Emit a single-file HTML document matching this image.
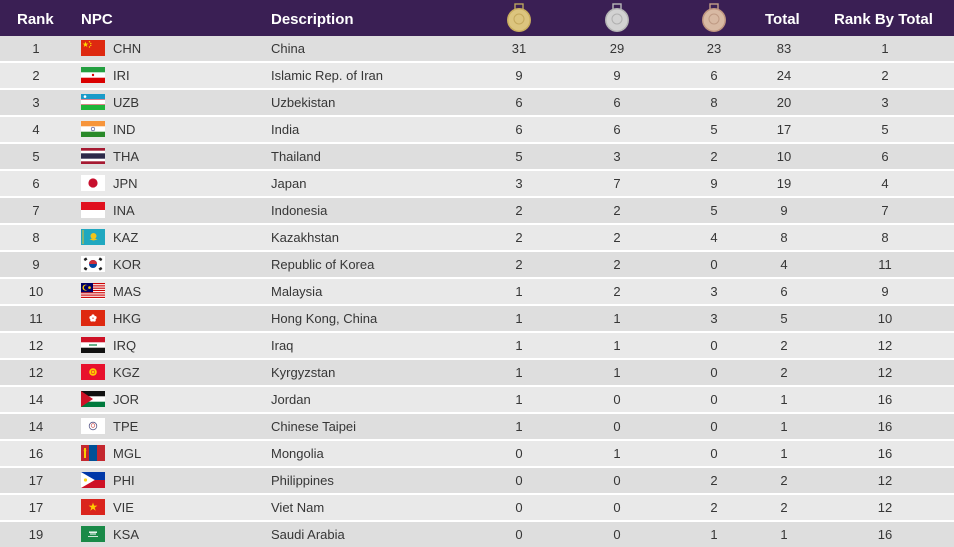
<!DOCTYPE html>
<html><head><meta charset="utf-8">
<style>
html,body{margin:0;padding:0;}
body{width:954px;height:544px;overflow:hidden;background:#fff;font-family:"Liberation Sans",Arial,sans-serif;color:#363636;position:relative;}
.hd{position:absolute;left:0;top:0;width:954px;height:36px;background:#3a1f54;}
.hd span{position:absolute;top:0;line-height:40px;font-size:15px;font-weight:bold;color:#fff;}
.hd svg{position:absolute;top:3px;}
.r{position:absolute;left:0;width:954px;height:25px;font-size:13px;}
.a{background:#dedede;}
.b{background:#e9e9e9;}
.r span{position:absolute;top:0;line-height:25px;white-space:nowrap;}
.c{width:60px;text-align:center;}
.rk{left:6px;}
.g{left:489px;}
.s{left:587px;}
.bz{left:684px;}
.t{left:754px;}
.rt{left:855px;}
.n{left:113px;}
.d{left:271px;}
.r svg{position:absolute;left:81px;top:4px;width:24px;height:16px;}
</style></head><body>
<div class="hd">
<span style="left:17px">Rank</span>
<span style="left:81px">NPC</span>
<span style="left:271px">Description</span>
<svg style="left:506px" width="26" height="30" viewBox="0 0 26 30"><rect x="9" y="1" width="8" height="6" fill="none" stroke="#b9a35e" stroke-width="1.4"/><circle cx="13" cy="17" r="12" fill="#c9ae5f"/><circle cx="13" cy="17" r="10.5" fill="#dcc57e"/><circle cx="13" cy="16" r="5" fill="none" stroke="#c4a95d" stroke-width="1"/></svg>
<svg style="left:604px" width="26" height="30" viewBox="0 0 26 30"><rect x="9" y="1" width="8" height="6" fill="none" stroke="#b8b8b8" stroke-width="1.4"/><circle cx="13" cy="17" r="12" fill="#b5b5b5"/><circle cx="13" cy="17" r="10.5" fill="#d2d2d2"/><circle cx="13" cy="16" r="5" fill="none" stroke="#b0b0b0" stroke-width="1"/></svg>
<svg style="left:701px" width="26" height="30" viewBox="0 0 26 30"><rect x="9" y="1" width="8" height="6" fill="none" stroke="#c49f87" stroke-width="1.4"/><circle cx="13" cy="17" r="12" fill="#c09680"/><circle cx="13" cy="17" r="10.5" fill="#d8b9a3"/><circle cx="13" cy="16" r="5" fill="none" stroke="#bf9a84" stroke-width="1"/></svg>
<span style="left:765px">Total</span>
<span style="left:834px">Rank By Total</span>
</div>

<div class="r a" style="top:36px"><span class="c rk">1</span>
<svg viewBox="0 0 24 16"><rect width="24" height="16" fill="#de2910"/><polygon points="4.5,1.5 5.2,3.6 7.4,3.6 5.6,4.9 6.3,7 4.5,5.7 2.7,7 3.4,4.9 1.6,3.6 3.8,3.6" fill="#ffde00"/><circle cx="8.5" cy="1.8" r=".7" fill="#ffde00"/><circle cx="9.8" cy="3.4" r=".7" fill="#ffde00"/><circle cx="9.8" cy="5.4" r=".7" fill="#ffde00"/><circle cx="8.5" cy="7" r=".7" fill="#ffde00"/></svg>
<span class="n">CHN</span><span class="d">China</span><span class="c g">31</span><span class="c s">29</span><span class="c bz">23</span><span class="c t">83</span><span class="c rt">1</span></div>

<div class="r b" style="top:63px"><span class="c rk">2</span>
<svg viewBox="0 0 24 16"><rect width="24" height="16" fill="#fff"/><rect width="24" height="5.3" fill="#239f40"/><rect y="10.7" width="24" height="5.3" fill="#da0000"/><circle cx="12" cy="8" r="1.2" fill="#da0000"/></svg>
<span class="n">IRI</span><span class="d">Islamic Rep. of Iran</span><span class="c g">9</span><span class="c s">9</span><span class="c bz">6</span><span class="c t">24</span><span class="c rt">2</span></div>

<div class="r a" style="top:90px"><span class="c rk">3</span>
<svg viewBox="0 0 24 16"><rect width="24" height="16" fill="#fff"/><rect width="24" height="5.3" fill="#1a9bc9"/><rect y="10.7" width="24" height="5.3" fill="#1eb53a"/><rect y="5.1" width="24" height=".5" fill="#ce1126"/><rect y="10.4" width="24" height=".5" fill="#ce1126"/><circle cx="4" cy="2.6" r="1.3" fill="#fff"/></svg>
<span class="n">UZB</span><span class="d">Uzbekistan</span><span class="c g">6</span><span class="c s">6</span><span class="c bz">8</span><span class="c t">20</span><span class="c rt">3</span></div>

<div class="r b" style="top:117px"><span class="c rk">4</span>
<svg viewBox="0 0 24 16"><rect width="24" height="16" fill="#fff"/><rect width="24" height="5.3" fill="#f7953b"/><rect y="10.7" width="24" height="5.3" fill="#2a8a2a"/><circle cx="12" cy="8" r="1.8" fill="none" stroke="#3a3a8a" stroke-width=".6"/></svg>
<span class="n">IND</span><span class="d">India</span><span class="c g">6</span><span class="c s">6</span><span class="c bz">5</span><span class="c t">17</span><span class="c rt">5</span></div>

<div class="r a" style="top:144px"><span class="c rk">5</span>
<svg viewBox="0 0 24 16"><rect width="24" height="16" fill="#fff"/><rect width="24" height="2.7" fill="#a51931"/><rect y="5.3" width="24" height="5.4" fill="#2d2a4a"/><rect y="13.3" width="24" height="2.7" fill="#a51931"/></svg>
<span class="n">THA</span><span class="d">Thailand</span><span class="c g">5</span><span class="c s">3</span><span class="c bz">2</span><span class="c t">10</span><span class="c rt">6</span></div>

<div class="r b" style="top:171px"><span class="c rk">6</span>
<svg viewBox="0 0 24 16"><rect width="24" height="16" fill="#fff"/><circle cx="12" cy="8" r="4.6" fill="#c8102e"/></svg>
<span class="n">JPN</span><span class="d">Japan</span><span class="c g">3</span><span class="c s">7</span><span class="c bz">9</span><span class="c t">19</span><span class="c rt">4</span></div>

<div class="r a" style="top:198px"><span class="c rk">7</span>
<svg viewBox="0 0 24 16"><rect width="24" height="16" fill="#fff"/><rect width="24" height="8" fill="#e0101e"/></svg>
<span class="n">INA</span><span class="d">Indonesia</span><span class="c g">2</span><span class="c s">2</span><span class="c bz">5</span><span class="c t">9</span><span class="c rt">7</span></div>

<div class="r b" style="top:225px"><span class="c rk">8</span>
<svg viewBox="0 0 24 16"><rect width="24" height="16" fill="#20a8c0"/><circle cx="12.5" cy="7" r="3" fill="#f0c419"/><path d="M8.5 10.5 Q12.5 8.5 16.5 10.5 L12.5 11.5Z" fill="#f0c419"/><rect x="1.5" y="1" width="1" height="14" fill="#e0bf30"/></svg>
<span class="n">KAZ</span><span class="d">Kazakhstan</span><span class="c g">2</span><span class="c s">2</span><span class="c bz">4</span><span class="c t">8</span><span class="c rt">8</span></div>

<div class="r a" style="top:252px"><span class="c rk">9</span>
<svg viewBox="0 0 24 16"><rect width="24" height="16" fill="#fff"/><circle cx="12" cy="8" r="4" fill="#0047a0"/><path d="M8 8 A4 4 0 0 1 16 8Z" fill="#cd2e3a"/><g fill="#222"><rect x="3" y="2" width="3" height="2.5" transform="rotate(-33 4.5 3.2)"/><rect x="18" y="2" width="3" height="2.5" transform="rotate(33 19.5 3.2)"/><rect x="3" y="11.5" width="3" height="2.5" transform="rotate(33 4.5 12.8)"/><rect x="18" y="11.5" width="3" height="2.5" transform="rotate(-33 19.5 12.8)"/></g></svg>
<span class="n">KOR</span><span class="d">Republic of Korea</span><span class="c g">2</span><span class="c s">2</span><span class="c bz">0</span><span class="c t">4</span><span class="c rt">11</span></div>

<div class="r b" style="top:279px"><span class="c rk">10</span>
<svg viewBox="0 0 24 16"><rect width="24" height="16" fill="#fff"/><g fill="#cc0001"><rect y="0" width="24" height="1.15"/><rect y="2.3" width="24" height="1.15"/><rect y="4.6" width="24" height="1.15"/><rect y="6.9" width="24" height="1.15"/><rect y="9.2" width="24" height="1.15"/><rect y="11.5" width="24" height="1.15"/><rect y="13.8" width="24" height="1.15"/></g><rect width="12" height="9.2" fill="#010066"/><circle cx="4.5" cy="4.6" r="3" fill="#fc0"/><circle cx="5.4" cy="4.6" r="2.5" fill="#010066"/><circle cx="8.5" cy="4.6" r="1.3" fill="#fc0"/></svg>
<span class="n">MAS</span><span class="d">Malaysia</span><span class="c g">1</span><span class="c s">2</span><span class="c bz">3</span><span class="c t">6</span><span class="c rt">9</span></div>

<div class="r a" style="top:306px"><span class="c rk">11</span>
<svg viewBox="0 0 24 16"><rect width="24" height="16" fill="#de2910"/><g fill="#fff"><circle cx="12" cy="6" r="1.6"/><circle cx="14" cy="7.6" r="1.6"/><circle cx="13.2" cy="10" r="1.6"/><circle cx="10.8" cy="10" r="1.6"/><circle cx="10" cy="7.6" r="1.6"/></g><circle cx="12" cy="8.2" r=".6" fill="#de2910"/></svg>
<span class="n">HKG</span><span class="d">Hong Kong, China</span><span class="c g">1</span><span class="c s">1</span><span class="c bz">3</span><span class="c t">5</span><span class="c rt">10</span></div>

<div class="r b" style="top:333px"><span class="c rk">12</span>
<svg viewBox="0 0 24 16"><rect width="24" height="16" fill="#fff"/><rect width="24" height="5.3" fill="#ce1126"/><rect y="10.7" width="24" height="5.3" fill="#111"/><rect x="8" y="7.4" width="8" height="1.2" fill="#007a3d"/></svg>
<span class="n">IRQ</span><span class="d">Iraq</span><span class="c g">1</span><span class="c s">1</span><span class="c bz">0</span><span class="c t">2</span><span class="c rt">12</span></div>

<div class="r a" style="top:360px"><span class="c rk">12</span>
<svg viewBox="0 0 24 16"><rect width="24" height="16" fill="#e8112d"/><circle cx="12" cy="8" r="3.8" fill="#ffce00"/><circle cx="12" cy="8" r="2" fill="#e8112d"/><circle cx="12" cy="8" r="1.5" fill="#ffce00"/></svg>
<span class="n">KGZ</span><span class="d">Kyrgyzstan</span><span class="c g">1</span><span class="c s">1</span><span class="c bz">0</span><span class="c t">2</span><span class="c rt">12</span></div>

<div class="r b" style="top:387px"><span class="c rk">14</span>
<svg viewBox="0 0 24 16"><rect width="24" height="16" fill="#fff"/><rect width="24" height="5.3" fill="#111"/><rect y="10.7" width="24" height="5.3" fill="#007a3d"/><polygon points="0,0 12,8 0,16" fill="#ce1126"/></svg>
<span class="n">JOR</span><span class="d">Jordan</span><span class="c g">1</span><span class="c s">0</span><span class="c bz">0</span><span class="c t">1</span><span class="c rt">16</span></div>

<div class="r a" style="top:414px"><span class="c rk">14</span>
<svg viewBox="0 0 24 16"><rect width="24" height="16" fill="#fff"/><circle cx="12" cy="8" r="3.8" fill="none" stroke="#5a5a8a" stroke-width=".8"/><circle cx="12" cy="7.5" r="1.8" fill="none" stroke="#c44" stroke-width=".6"/></svg>
<span class="n">TPE</span><span class="d">Chinese Taipei</span><span class="c g">1</span><span class="c s">0</span><span class="c bz">0</span><span class="c t">1</span><span class="c rt">16</span></div>

<div class="r b" style="top:441px"><span class="c rk">16</span>
<svg viewBox="0 0 24 16"><rect width="24" height="16" fill="#c4272f"/><rect x="8" width="8" height="16" fill="#015197"/><rect x="3" y="3" width="2" height="10" fill="#f9cf02"/><circle cx="4" cy="5.5" r="1.3" fill="#f9cf02"/></svg>
<span class="n">MGL</span><span class="d">Mongolia</span><span class="c g">0</span><span class="c s">1</span><span class="c bz">0</span><span class="c t">1</span><span class="c rt">16</span></div>

<div class="r a" style="top:468px"><span class="c rk">17</span>
<svg viewBox="0 0 24 16"><rect width="24" height="8" fill="#0038a8"/><rect y="8" width="24" height="8" fill="#ce1126"/><polygon points="0,0 13.8,8 0,16" fill="#fff"/><circle cx="4.5" cy="8" r="1.6" fill="#fcd116"/></svg>
<span class="n">PHI</span><span class="d">Philippines</span><span class="c g">0</span><span class="c s">0</span><span class="c bz">2</span><span class="c t">2</span><span class="c rt">12</span></div>

<div class="r b" style="top:495px"><span class="c rk">17</span>
<svg viewBox="0 0 24 16"><rect width="24" height="16" fill="#da251d"/><polygon points="12,3.5 13.1,6.6 16.4,6.6 13.7,8.6 14.7,11.7 12,9.8 9.3,11.7 10.3,8.6 7.6,6.6 10.9,6.6" fill="#ffcd00"/></svg>
<span class="n">VIE</span><span class="d">Viet Nam</span><span class="c g">0</span><span class="c s">0</span><span class="c bz">2</span><span class="c t">2</span><span class="c rt">12</span></div>

<div class="r a" style="top:522px"><span class="c rk">19</span>
<svg viewBox="0 0 24 16"><rect width="24" height="16" fill="#1a8a48"/><rect x="8" y="5.5" width="8" height="1.4" fill="#fff"/><rect x="9" y="7.5" width="6" height="1" fill="#fff"/><rect x="7" y="10" width="10" height=".8" fill="#fff"/></svg>
<span class="n">KSA</span><span class="d">Saudi Arabia</span><span class="c g">0</span><span class="c s">0</span><span class="c bz">1</span><span class="c t">1</span><span class="c rt">16</span></div>

</body></html>
